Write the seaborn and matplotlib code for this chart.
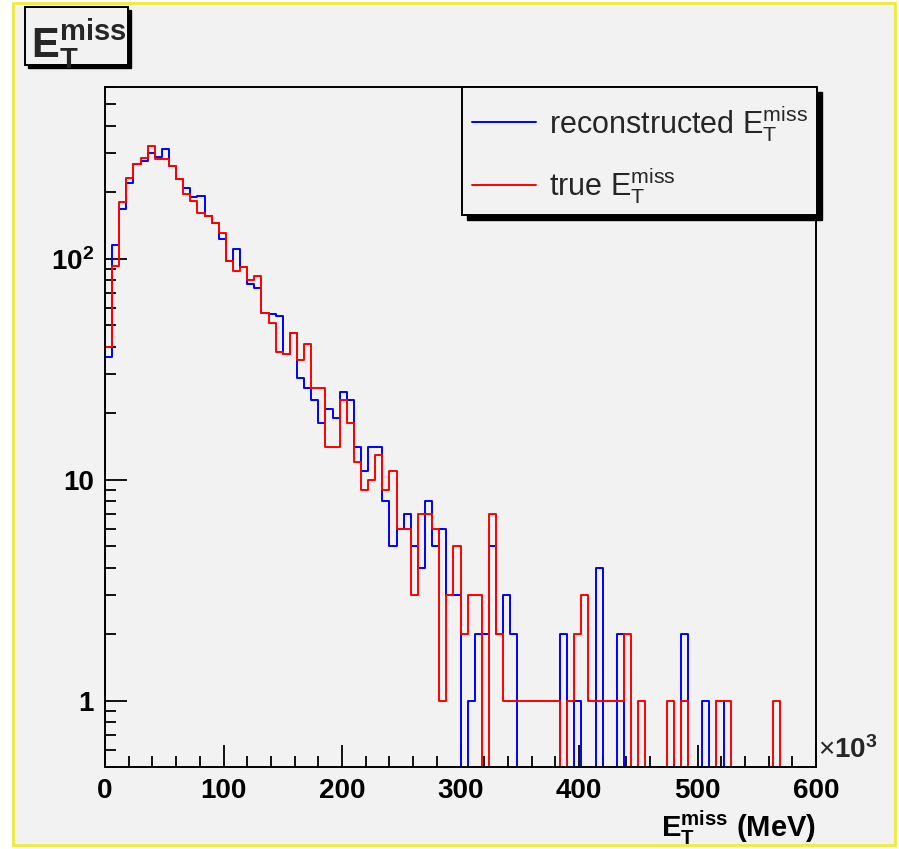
import numpy as np
import pandas as pd
import matplotlib
matplotlib.use("Agg")
import matplotlib.pyplot as plt
from matplotlib.patches import Rectangle
from matplotlib.ticker import MultipleLocator, LogLocator, NullFormatter
import seaborn as sns

# missing transverse energy, 100 bins of 6000 MeV between 0 and 600000 MeV
bin_width = 6000
n_bins = 100

# counts per bin (bins not listed are empty)
reco_counts = [36, 116, 168, 221, 268, 278, 303, 290, 313, 264,
               230, 210, 190, 192, 156, 145, 123, 98, 111, 92,
               77, 74, 57, 56, 55, 37, 46, 29, 26, 23,
               18, 21, 19, 25, 23, 14, 11, 14, 14, 8,
               5, 6, 7, 5, 4, 8, 5, 6, 3, 3,
               0, 1, 2, 2, 5, 2, 3, 2, 0, 0,
               0, 0, 0, 0, 2, 0, 1, 0, 0, 4,
               0, 0, 2, 0, 0, 0, 0, 0, 0, 0,
               0, 2, 0, 0, 1, 0, 1]
true_counts = [40, 93, 180, 233, 268, 287, 325, 282, 282, 264,
               229, 196, 183, 162, 156, 145, 131, 98, 88, 92,
               80, 84, 57, 51, 38, 37, 46, 35, 41, 26,
               26, 14, 14, 23, 18, 12, 9, 10, 13, 9,
               11, 6, 6, 3, 7, 7, 6, 1, 3, 5,
               2, 3, 3, 0, 7, 2, 1, 1, 1, 1,
               1, 1, 1, 1, 0, 1, 2, 3, 1, 1,
               1, 1, 1, 2, 0, 1, 0, 0, 0, 1,
               0, 1, 0, 0, 0, 0, 1, 1, 0, 0,
               0, 0, 0, 0, 1]

series_names = ["reco", "true"]
legend_labels = [r"reconstructed $\mathrm{E}_\mathrm{T}^\mathrm{miss}$",
                 r"true $\mathrm{E}_\mathrm{T}^\mathrm{miss}$"]
x_ticks = [0, 100000, 200000, 300000, 400000, 500000, 600000]
x_tick_labels = ["0", "100", "200", "300", "400", "500", "600"]
y_ticks = [1, 10, 100]
y_tick_labels = ["1", "10", r"$\mathbf{10^{2}}$"]

sns.set_theme(style="ticks")
plt.rcParams["font.family"] = ["Liberation Sans", "DejaVu Sans"]
plt.rcParams["mathtext.fontset"] = "custom"
plt.rcParams["mathtext.rm"] = "Liberation Sans"
plt.rcParams["mathtext.it"] = "Liberation Sans:italic"
plt.rcParams["mathtext.bf"] = "Liberation Sans:bold"

bg = "#f2f2f2"

# build step outlines (ROOT style: empty bins drop below the frame)
edges = np.arange(n_bins + 1) * bin_width
rows = []
for name, counts in zip(series_names, [reco_counts, true_counts]):
    c = np.zeros(n_bins)
    c[:len(counts)] = counts
    c = np.where(c > 0, c, 1e-2)
    xs = np.concatenate([[0], edges])
    ys = np.concatenate([[1e-2], c, [c[-1]]])
    for xv, yv in zip(xs, ys):
        rows.append({"x": xv, "count": yv, "series": name})
df = pd.DataFrame(rows)

fig = plt.figure(figsize=(8.99, 8.49), dpi=100)
fig.patch.set_facecolor("white")
W, H = 899, 849

def fx(px):
    return px / W

def fy(py):
    return 1 - py / H

# canvas with yellow border
fig.add_artist(Rectangle((fx(13), fy(845)), fx(895) - fx(13), fy(3) - fy(845),
                         transform=fig.transFigure, facecolor=bg,
                         edgecolor="#f0ea3a", linewidth=2, zorder=-5))

ax = fig.add_axes([fx(105), fy(767), fx(816) - fx(105), fy(87) - fy(767)])
ax.set_facecolor(bg)

sns.lineplot(data=df, x="x", y="count", hue="series", hue_order=series_names,
             palette={"reco": "#0000ff", "true": "#ff0000"},
             drawstyle="steps-post", estimator=None, sort=False,
             linewidth=1.4, legend=False, ax=ax)

ax.set_yscale("log")
ax.set_xlim(0, 600000)
ax.set_ylim(0.5, 600)

for s in ax.spines.values():
    s.set_visible(True)
    s.set_color("black")
    s.set_linewidth(1.4)

ax.set_xticks(x_ticks, x_tick_labels, fontsize=20, fontweight="bold")
ax.set_yticks(y_ticks, y_tick_labels, fontsize=20, fontweight="bold")
ax.xaxis.set_minor_locator(MultipleLocator(20000))
ax.yaxis.set_minor_locator(LogLocator(base=10, subs=np.arange(2, 10)))
ax.yaxis.set_minor_formatter(NullFormatter())
ax.tick_params(which="major", direction="in", length=15.5, width=1.3,
               pad=8, top=False, right=False, colors="black")
ax.tick_params(which="minor", direction="in", length=7.8, width=1.3,
               top=False, right=False, colors="black")

ax.set_xlabel(r"$\mathbf{E}_{\mathbf{T}}^{\mathbf{miss}}$ (MeV)", loc="right",
              fontsize=21, fontweight="bold", labelpad=3, color="black")
ax.set_ylabel("")
ax.text(1.003, 0.005, r"$\times$10$^{\mathbf{3}}$", transform=ax.transAxes,
        ha="left", va="bottom", fontsize=20, fontweight="bold")

# title box with shadow
fig.add_artist(Rectangle((fx(28), fy(68)), fx(103), fy(0) - fy(58),
                         transform=fig.transFigure, facecolor="black",
                         edgecolor="black", zorder=3))
fig.add_artist(Rectangle((fx(25), fy(65)), fx(103), fy(0) - fy(58),
                         transform=fig.transFigure, facecolor=bg,
                         edgecolor="black", linewidth=1.4, zorder=4))
fig.text(fx(31), fy(57), r"$\mathbf{E}_{\mathbf{T}}^{\mathbf{miss}}$",
         fontsize=30, ha="left", va="baseline", zorder=5)

# legend box with shadow
fig.add_artist(Rectangle((fx(467), fy(220)), fx(817) - fx(462), fy(87) - fy(215),
                         transform=fig.transFigure, facecolor="black",
                         edgecolor="black", zorder=3))
fig.add_artist(Rectangle((fx(462), fy(215)), fx(817) - fx(462), fy(87) - fy(215),
                         transform=fig.transFigure, facecolor=bg,
                         edgecolor="black", linewidth=1.4, zorder=4))
handles = ax.get_lines()[:2]
fig.legend(handles, legend_labels, loc="upper left",
           bbox_to_anchor=(fx(472), fy(103)), frameon=False, fontsize=22,
           handlelength=2.1, handletextpad=0.42, labelspacing=0.72,
           borderpad=0, borderaxespad=0)

fig.savefig("out.png", dpi=100, facecolor=fig.get_facecolor())
